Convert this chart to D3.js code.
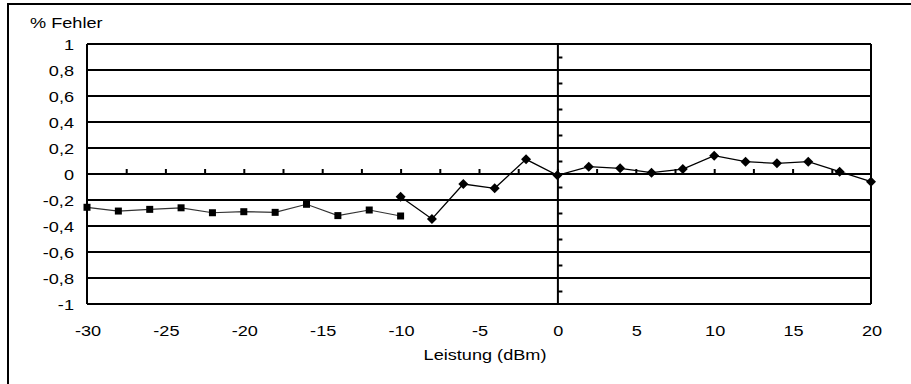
<!DOCTYPE html>
<html>
<head>
<meta charset="utf-8">
<script src="https://cdn.jsdelivr.net/npm/d3@7"></script>
<style>
  body { margin: 0; background: #fff; }
  svg { display: block; font-family: "Liberation Sans", Arial, sans-serif; }
  text { fill: #000; font-size: 15.5px; }
</style>
</head>
<body>
<svg width="911" height="384"></svg>
<script>
// series 1 (squares)
var xLow = [-30, -28, -26, -24, -22, -20, -18, -16, -14, -12, -10];
var yLow = [-0.256, -0.285, -0.272, -0.26, -0.298, -0.29, -0.295, -0.233, -0.32, -0.277, -0.323];
// series 2 (diamonds)
var xHigh = [-10, -8, -6, -4, -2, 0, 2, 4, 6, 8, 10, 12, 14, 16, 18, 20];
var yHigh = [-0.175, -0.346, -0.077, -0.11, 0.113, -0.01, 0.056, 0.044, 0.01, 0.038, 0.141, 0.095, 0.082, 0.095, 0.018, -0.059];

var xTicks = [-30, -25, -20, -15, -10, -5, 0, 5, 10, 15, 20];
var yTicks = [1, 0.8, 0.6, 0.4, 0.2, 0, -0.2, -0.4, -0.6, -0.8, -1];

var svg = d3.select("svg"),
  margin = {"top": 44, "left": 87, "right": 40, "bottom": 80},
  width = 871 - margin.left,
  height = 304 - margin.top,
  stretch = 1.17;

// the original text is a bit wider than the font
function label(sel, tx, ty, anchor, txt) {
  return sel.append("text")
    .attr("transform", "translate(" + tx + "," + ty + ") scale(" + stretch + ",1)")
    .attr("text-anchor", anchor)
    .text(txt);
}

// outer frame (only top/left visible)
svg.append("rect")
  .attr("x", 8).attr("y", 4)
  .attr("width", 1000).attr("height", 1000)
  .attr("fill", "none").attr("stroke", "#000").attr("stroke-width", 2);

var g = svg.append("g").attr("transform", "translate(" + margin.left + "," + margin.top + ")");

var x = d3.scaleLinear().domain([-30, 20]).range([0, width]);
var y = d3.scaleLinear().domain([-1, 1]).range([height, 0]);

// horizontal grid lines
g.selectAll(".grid")
  .data(yTicks)
  .enter().append("line")
  .attr("x1", 0).attr("x2", width)
  .attr("y1", function(d) { return y(d); })
  .attr("y2", function(d) { return y(d); })
  .attr("stroke", "#000").attr("stroke-width", 2);

// plot border left/right
g.append("line").attr("x1", 0).attr("x2", 0).attr("y1", 0).attr("y2", height)
  .attr("stroke", "#000").attr("stroke-width", 2);
g.append("line").attr("x1", width).attr("x2", width).attr("y1", 0).attr("y2", height)
  .attr("stroke", "#000").attr("stroke-width", 2);

// y axis at x = 0 with minor ticks
var yAxis = d3.axisRight(y)
  .tickValues(d3.range(-9, 10, 2).map(function(d) { return d / 10; }))
  .tickSize(5).tickSizeOuter(0).tickFormat("");
var ya = g.append("g").attr("transform", "translate(" + x(0) + ",0)").call(yAxis);
ya.select(".domain").attr("stroke-width", 2);
ya.selectAll(".tick line").attr("stroke-width", 2);

// x axis on zero line, ticks pointing up
var xAxis = d3.axisTop(x)
  .tickValues(d3.range(-27.5, 20, 2.5))
  .tickSize(5).tickSizeOuter(0).tickFormat("");
var xa = g.append("g").attr("transform", "translate(0," + y(0) + ")").call(xAxis);
xa.select(".domain").remove();
xa.selectAll(".tick line").attr("stroke-width", 2);

// tick labels
yTicks.forEach(function(d) {
  label(g, -13, y(d) + 5.5, "end", String(d).replace(".", ","));
});
xTicks.forEach(function(d) {
  label(g, x(d) + 1, height + 32, "middle", d);
});

label(svg, 30, 28, "start", "% Fehler");
label(svg, 485, 360, "middle", "Leistung (dBm)");

// series
var low = xLow.map(function(d, i) { return [d, yLow[i]]; });
var high = xHigh.map(function(d, i) { return [d, yHigh[i]]; });
var line = d3.line()
  .x(function(d) { return x(d[0]); })
  .y(function(d) { return y(d[1]); });

g.append("path").datum(low).attr("d", line)
  .attr("fill", "none").attr("stroke", "#333").attr("stroke-width", 1.2);
g.append("path").datum(high).attr("d", line)
  .attr("fill", "none").attr("stroke", "#000").attr("stroke-width", 1.3);

g.selectAll(".sq")
  .data(low)
  .enter().append("rect")
  .attr("x", function(d) { return x(d[0]) - 3.5; })
  .attr("y", function(d) { return y(d[1]) - 3.5; })
  .attr("width", 7).attr("height", 7)
  .attr("fill", "#000");

g.selectAll(".dm")
  .data(high)
  .enter().append("path")
  .attr("transform", function(d) { return "translate(" + x(d[0]) + "," + y(d[1]) + ")"; })
  .attr("d", "M0,-5L5,0L0,5L-5,0Z")
  .attr("fill", "#000");
</script>
</body>
</html>
